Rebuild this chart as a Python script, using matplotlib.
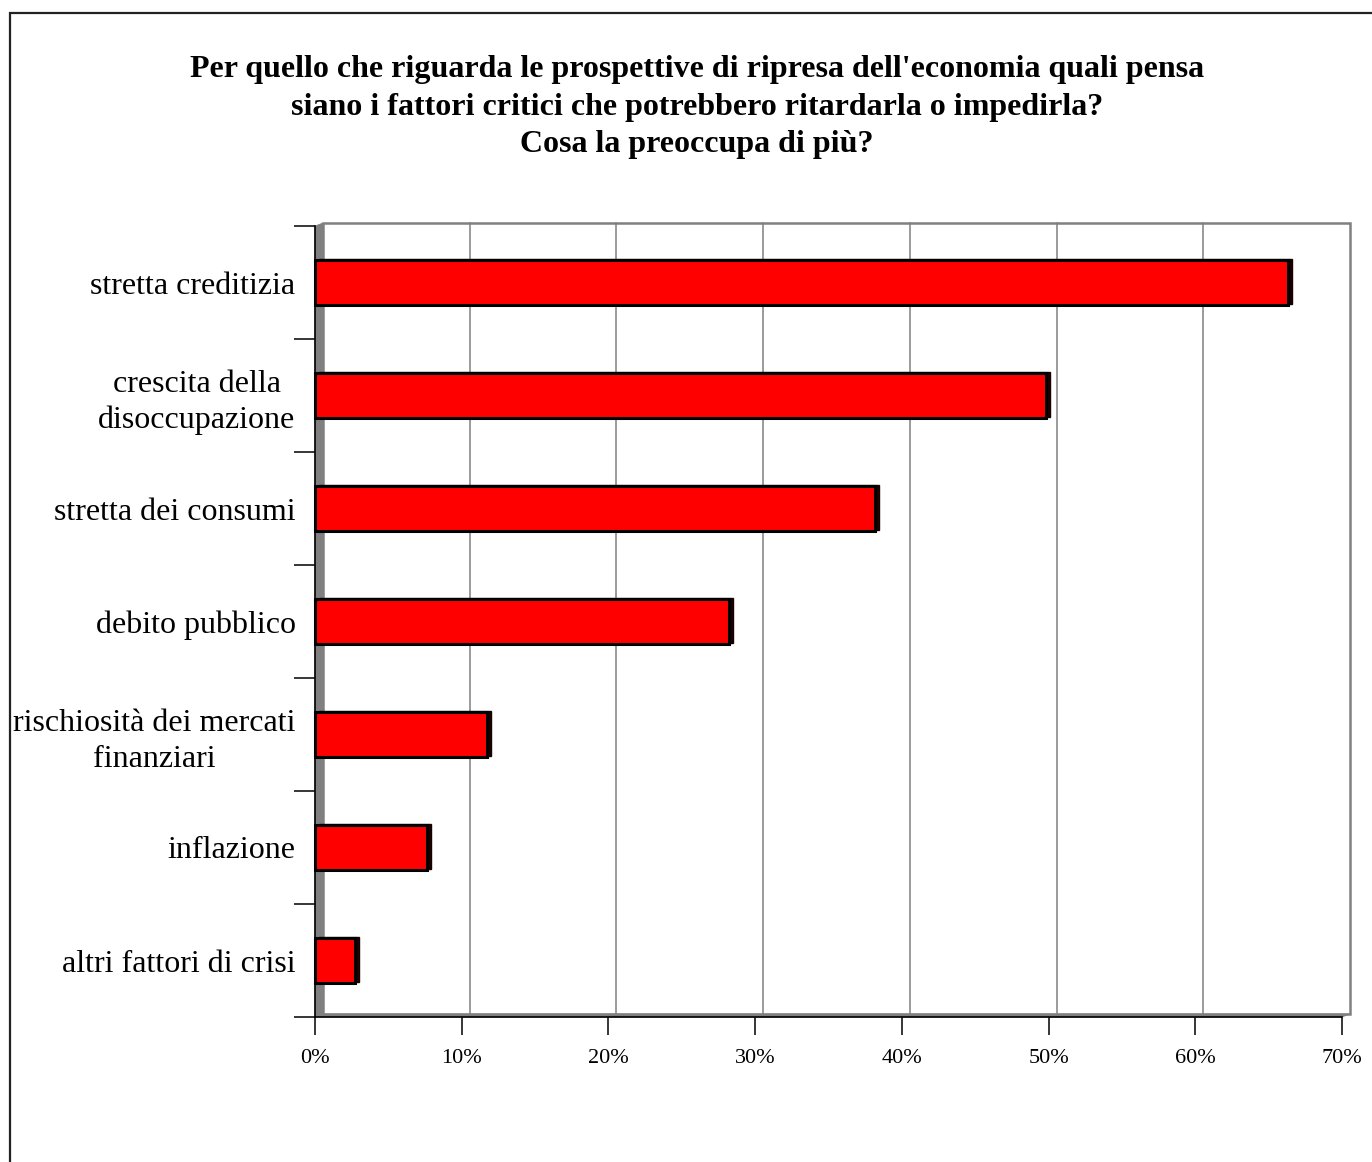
import matplotlib
matplotlib.use("Agg")
import matplotlib.pyplot as plt
import matplotlib.transforms as mtransforms
from matplotlib.patches import Rectangle, Polygon

plt.rcParams['font.family'] = ['Liberation Serif', 'DejaVu Serif']

categories = [
    "stretta creditizia",
    "crescita della\ndisoccupazione",
    "stretta dei consumi",
    "debito pubblico",
    "rischiosità dei mercati\nfinanziari",
    "inflazione",
    "altri fattori di crisi",
]
values = [66.3, 49.8, 38.2, 28.2, 11.7, 7.6, 2.7]
x_ticks = [0, 10, 20, 30, 40, 50, 60, 70]
x_tick_labels = ["0%", "10%", "20%", "30%", "40%", "50%", "60%", "70%"]
title = ("Per quello che riguarda le prospettive di ripresa dell'economia quali pensa\n"
         "siano i fattori critici che potrebbero ritardarla o impedirla?\n"
         "Cosa la preoccupa di più?")

W, H = 1372, 1162
fig = plt.figure(figsize=(W / 100, H / 100), dpi=100)

# outer chart-area frame (right and bottom edges fall outside the canvas)
fig.patches.append(Rectangle((10 / W, -0.05), 1.1, (H - 13) / H + 0.05,
                             transform=fig.transFigure, fill=False,
                             edgecolor="#222222", lw=1.6))

fig.text(697 / W, 1 - 107 / H, title, ha="center", va="center",
         fontsize=23, fontweight="bold", linespacing=1.38)

left, right, top, bottom = 315, 1342, 226, 1017
ax = fig.add_axes([left / W, 1 - bottom / H, (right - left) / W, (bottom - top) / H])
n = len(categories)
ax.set_xlim(0, 70)
ax.set_ylim(0, n)
ax.set_facecolor("none")
for s in ax.spines.values():
    s.set_visible(False)

# depth offset of the back wall
dx, dy = 0.08, 0.03
back = ax.transData + mtransforms.ScaledTranslation(dx, dy, fig.dpi_scale_trans)

grey = "#808080"
# back wall gridlines and border
for t in x_ticks[1:-1]:
    ax.plot([t, t], [0, n], color=grey, lw=1.1, transform=back, zorder=1, clip_on=False)
ax.add_patch(Rectangle((0, 0), 70, n, transform=back, fill=False,
                       edgecolor=grey, lw=1.8, zorder=1, clip_on=False))

# side wall and floor, drawn in display space between front and back planes
def disp(x, y, offset=False):
    p = ax.transData.transform((x, y))
    if offset:
        p = p + [dx * 100, dy * 100]
    return fig.transFigure.inverted().transform(p)

fig.canvas.draw()
wall = [disp(0, 0), disp(0, n), disp(0, n, True), disp(0, 0, True)]
ax.add_patch(Polygon(wall, closed=True, transform=fig.transFigure,
                     facecolor=grey, edgecolor=grey, lw=0.5, zorder=2, clip_on=False))
floor = [disp(0, 0), disp(70, 0), disp(70, 0, True), disp(0, 0, True)]
ax.add_patch(Polygon(floor, closed=True, transform=fig.transFigure,
                     facecolor=grey, edgecolor=grey, lw=0.5, zorder=2, clip_on=False))

# bars: dark back face shows as the depth side, red front face on top
ypos = [n - 0.5 - i for i in range(n)]
bar_h = 0.4
bdx, bdy = 0.04, 0.008
bar_back = ax.transData + mtransforms.ScaledTranslation(bdx, bdy, fig.dpi_scale_trans)
for y, v in zip(ypos, values):
    ax.add_patch(Rectangle((0, y - bar_h / 2), v, bar_h, transform=bar_back,
                           facecolor="#1a0000", edgecolor="#1a0000", lw=1.0,
                           zorder=4, clip_on=False))
ax.barh(ypos, values, height=bar_h, color="#ff0000", edgecolor="#000000",
        linewidth=2.2, zorder=5, clip_on=False)

# front axes lines
ax.plot([0, 0], [0, n], color="black", lw=1.2, zorder=6, clip_on=False)
ax.plot([0, 70], [0, 0], color="black", lw=1.2, zorder=6, clip_on=False)

ax.set_yticks(range(n + 1))
ax.set_yticklabels([])
ax.set_yticks(ypos, minor=True)
ax.set_yticklabels(categories, minor=True, fontsize=23, multialignment="center",
                   linespacing=1.3)
ax.tick_params(axis="y", which="major", length=15, width=1.1, color="black", direction="out")
ax.tick_params(axis="y", which="minor", length=0, pad=14)

ax.set_xticks(x_ticks)
ax.set_xticklabels(x_tick_labels, fontsize=16)
ax.tick_params(axis="x", length=13, width=1.1, color="black", direction="out", pad=10)

fig.savefig("out.png", dpi=100)
